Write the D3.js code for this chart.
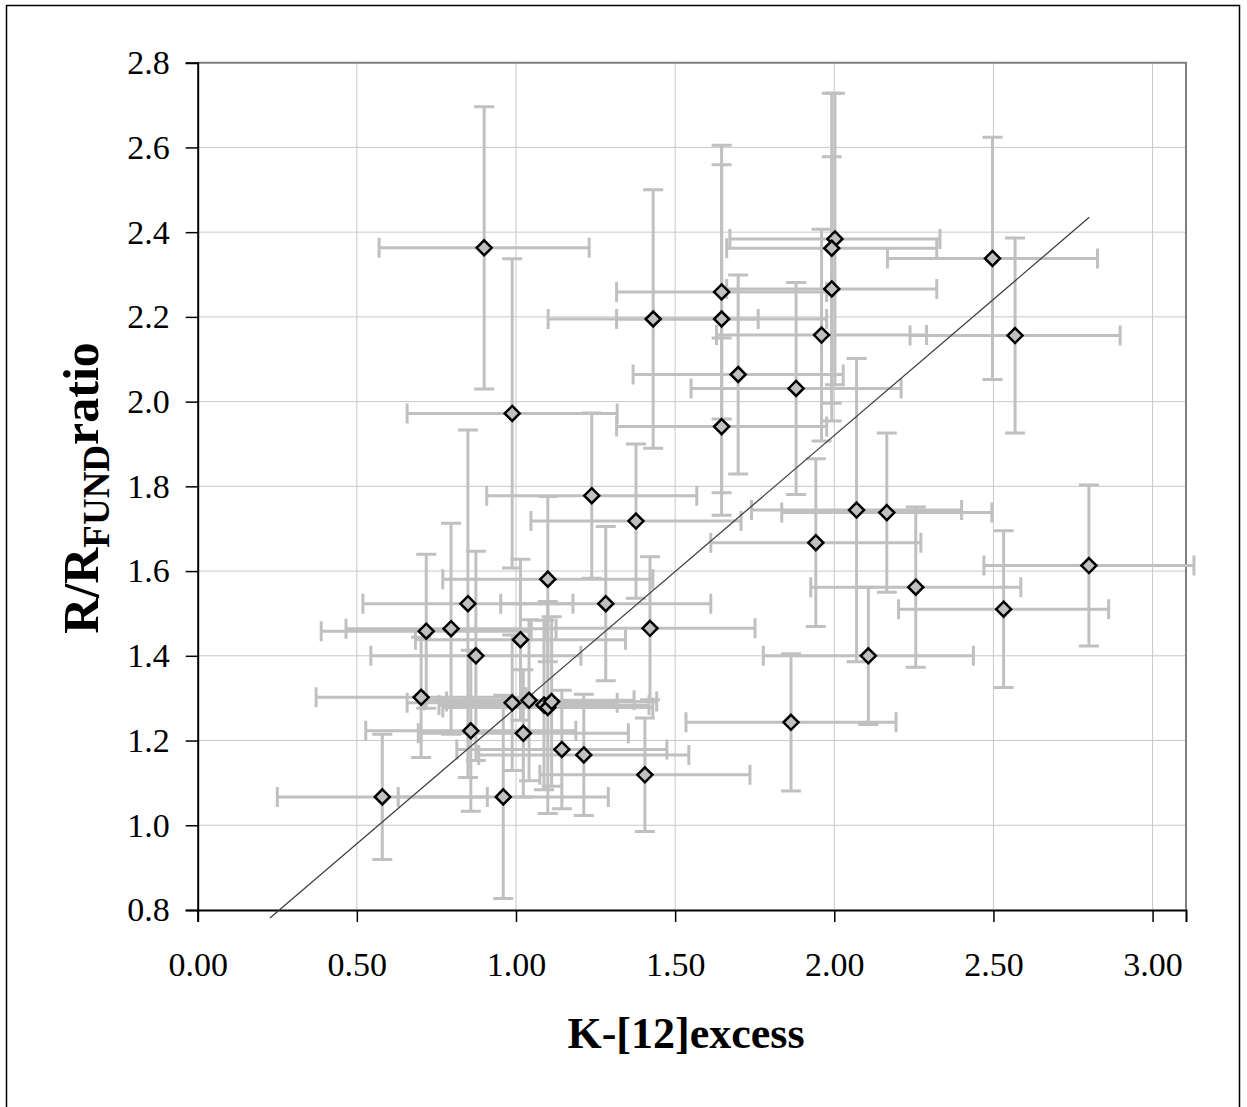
<!DOCTYPE html>
<html>
<head>
<meta charset="utf-8">
<script src="https://cdn.jsdelivr.net/npm/d3@7"></script>
<style>
  html, body { margin: 0; padding: 0; background: #fff; }
  svg { display: block; }
  text { font-family: "Liberation Serif", "Times New Roman", serif; }
</style>
</head>
<body>
<svg id="chart" width="1247" height="1107"></svg>
<script>
// ---- data ----
const xValues = [0.900, 0.988, 1.431, 1.646, 1.646, 2.002, 1.992, 1.992, 1.960, 2.497,
                 2.568, 1.698, 1.880, 1.646, 1.238, 1.377, 2.070, 2.165, 1.942, 2.800,
                 2.256, 2.532, 2.107, 1.864, 1.100, 1.282, 0.849, 0.718, 0.796, 0.874,
                 1.014, 1.421, 0.702, 0.858, 0.988, 1.041, 1.088, 1.100, 1.112, 1.023,
                 1.144, 1.213, 1.405, 0.580, 0.960];
const yValues = [2.363, 1.972, 2.195, 2.259, 2.195, 2.384, 2.362, 2.266, 2.157, 2.338,
                 2.156, 2.064, 2.031, 1.941, 1.778, 1.718, 1.744, 1.738, 1.667, 1.613,
                 1.562, 1.510, 1.400, 1.243, 1.581, 1.523, 1.523, 1.458, 1.464, 1.400,
                 1.438, 1.465, 1.302, 1.223, 1.289, 1.295, 1.284, 1.278, 1.292, 1.217,
                 1.179, 1.166, 1.119, 1.067, 1.067];
const yErrors = [0.333, 0.365, 0.305, 0.300, 0.410, 0.344, 0.366, 0.312, 0.250, 0.286,
                 0.230, 0.235, 0.250, 0.209, 0.195, 0.182, 0.358, 0.188, 0.198, 0.190,
                 0.189, 0.185, 0.162, 0.162, 0.195, 0.182, 0.410, 0.182, 0.249, 0.247,
                 0.190, 0.169, 0.142, 0.190, 0.160, 0.190, 0.200, 0.250, 0.200, 0.150,
                 0.140, 0.143, 0.134, 0.148, 0.240];
const xErrors = [0.33, 0.33, 0.33, 0.33, 0.33, 0.33, 0.33, 0.33, 0.33, 0.33,
                 0.33, 0.33, 0.33, 0.33, 0.33, 0.33, 0.33, 0.33, 0.33, 0.33,
                 0.33, 0.33, 0.33, 0.33, 0.33, 0.33, 0.33, 0.33, 0.33, 0.33,
                 0.33, 0.33, 0.33, 0.33, 0.33, 0.33, 0.33, 0.33, 0.33, 0.33,
                 0.33, 0.33, 0.33, 0.33, 0.33];
// linear trend line endpoints (x) and its fit
const trendX = [0.227, 2.801];
const trendSlope = 0.6426;
const trendIntercept = 0.635;

const xTicks = [0.0, 0.5, 1.0, 1.5, 2.0, 2.5, 3.0];
const yTicks = [0.8, 1.0, 1.2, 1.4, 1.6, 1.8, 2.0, 2.2, 2.4, 2.6, 2.8];
const xTitle = "K-[12]excess";
const yTitleMain = "R/R";
const yTitleSub = "FUND";
const yTitleEnd = "ratio";

// ---- layout ----
const svg = d3.select("#chart");
const L = 197.7, R = 1186, T = 62.7, B = 910;
const x = d3.scaleLinear().domain([0, 3.105]).range([L, R]);
const y = d3.scaleLinear().domain([0.8, 2.8]).range([B, T]);

const pts = xValues.map((v, i) => ({x: v, y: yValues[i], ex: xErrors[i], ey: yErrors[i]}));

// outer frame
svg.append("rect").attr("x", 6.5).attr("y", 5.5).attr("width", 1233).attr("height", 1110)
  .attr("fill", "none").attr("stroke", "#000").attr("stroke-width", 1.5);

// gridlines
const grid = svg.append("g");
grid.selectAll("line.v").data(xTicks.slice(1)).join("line")
  .attr("x1", d => x(d)).attr("x2", d => x(d)).attr("y1", T).attr("y2", B)
  .attr("stroke", "#c8c8c8").attr("stroke-width", 1);
grid.selectAll("line.h").data(yTicks.slice(1)).join("line")
  .attr("y1", d => y(d)).attr("y2", d => y(d)).attr("x1", L).attr("x2", R)
  .attr("stroke", "#c8c8c8").attr("stroke-width", 1);

// plot border top/right (gray)
svg.append("path").attr("d", `M${L},${T}H${R}V${B}`).attr("fill", "none")
  .attr("stroke", "#808080").attr("stroke-width", 2);

// axes
const xAxis = d3.axisBottom(x).tickValues(xTicks).tickFormat(d3.format(".2f")).tickSizeOuter(0).tickSize(12).tickPadding(30);
const yAxis = d3.axisLeft(y).tickValues(yTicks).tickFormat(d3.format(".1f")).tickSizeOuter(0).tickSize(12).tickPadding(16);

const gx = svg.append("g").attr("transform", `translate(0,${B})`).call(xAxis);
const gy = svg.append("g").attr("transform", `translate(${L},0)`).call(yAxis);
[gx, gy].forEach(g => {
  g.select(".domain").attr("stroke", "#000").attr("stroke-width", 2);
  g.selectAll(".tick line").attr("stroke", "#000").attr("stroke-width", 1.5);
  g.selectAll(".tick text").attr("fill", "#000").style("font-size", "34px")
    .style("font-family", "'Liberation Serif', 'Times New Roman', serif");
});

// error bars
const eb = svg.append("g").attr("stroke", "#c0c0c0").attr("stroke-width", 3).attr("fill", "none");
const cap = 10;
pts.forEach(p => {
  const cx = x(p.x), cy = y(p.y);
  const x0 = x(p.x - p.ex), x1 = x(p.x + p.ex);
  const y0 = y(p.y - p.ey), y1 = y(p.y + p.ey);
  eb.append("path").attr("d",
    `M${x0},${cy}H${x1}M${x0},${cy - cap}V${cy + cap}M${x1},${cy - cap}V${cy + cap}` +
    `M${cx},${y0}V${y1}M${cx - cap},${y0}H${cx + cap}M${cx - cap},${y1}H${cx + cap}`);
});

// trend line
svg.append("line")
  .attr("x1", x(trendX[0])).attr("y1", y(trendIntercept + trendSlope * trendX[0]))
  .attr("x2", x(trendX[1])).attr("y2", y(trendIntercept + trendSlope * trendX[1]))
  .attr("stroke", "#404040").attr("stroke-width", 1.3);

// markers
const s = 7.5;
svg.append("g").selectAll("path").data(pts).join("path")
  .attr("d", d => `M${x(d.x)},${y(d.y) - s}L${x(d.x) + s},${y(d.y)}L${x(d.x)},${y(d.y) + s}L${x(d.x) - s},${y(d.y)}Z`)
  .attr("fill", "#c0c0c0").attr("stroke", "#000").attr("stroke-width", 2.5);

// axis titles
svg.append("text").attr("x", 686).attr("y", 1048).attr("text-anchor", "middle")
  .style("font-size", "44px").style("font-weight", "bold").text(xTitle);

const yt = svg.append("text").attr("transform", `translate(98,488) rotate(-90)`)
  .attr("text-anchor", "middle").style("font-size", "50px").style("font-weight", "bold");
yt.append("tspan").text(yTitleMain);
yt.append("tspan").attr("dy", 11).style("font-size", "37px").text(yTitleSub);
yt.append("tspan").attr("dy", -11).text(yTitleEnd);
</script>
</body>
</html>
